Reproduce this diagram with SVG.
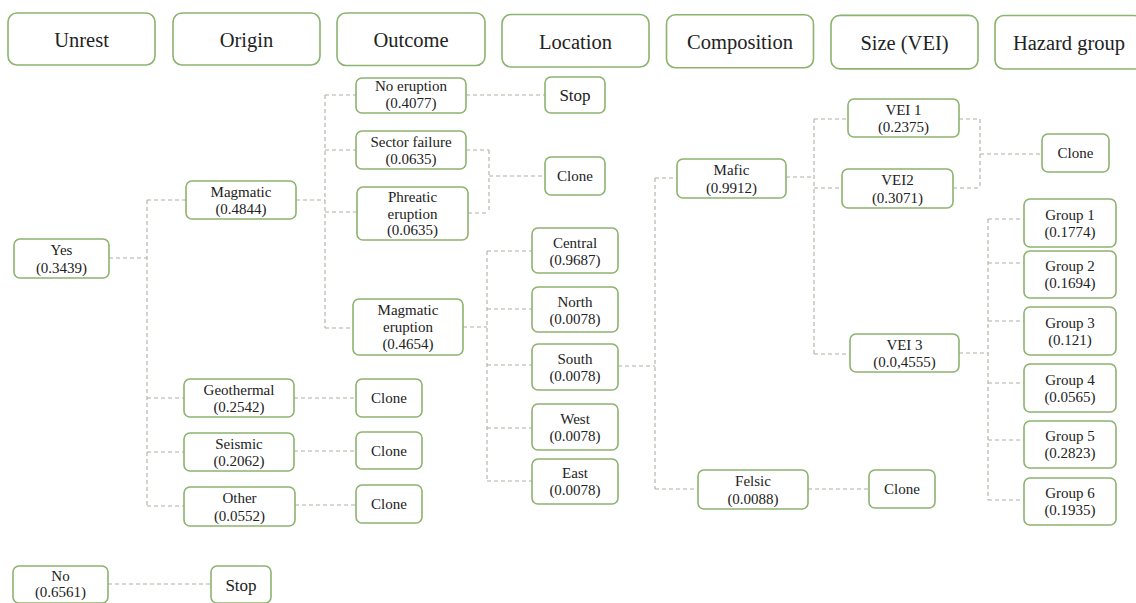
<svg xmlns="http://www.w3.org/2000/svg" width="1136" height="603" viewBox="0 0 1136 603">
<style>
.box{fill:#ffffff;stroke:#8db36f;stroke-width:1.6}
.t{font-family:"Liberation Serif","Times New Roman",serif;font-size:15px;fill:#222;text-anchor:middle}
.h{font-family:"Liberation Serif","Times New Roman",serif;font-size:20.5px;fill:#222;text-anchor:middle}
.s{font-family:"Liberation Serif","Times New Roman",serif;font-size:17px;fill:#222;text-anchor:middle}
.c{fill:none;stroke:#aab2a0;stroke-width:1.1;stroke-dasharray:4 3}
</style>
<rect width="1136" height="603" fill="#ffffff"/>
<g id="headers">
<g id="h-unrest"><rect class="box" x="8" y="13" width="147" height="52" rx="9"/><text class="h" x="81.5" y="46.5">Unrest</text></g>
<g id="h-origin"><rect class="box" x="173" y="13" width="147" height="52" rx="9"/><text class="h" x="246.5" y="46.5">Origin</text></g>
<g id="h-outcome"><rect class="box" x="337" y="13" width="148" height="52.5" rx="9"/><text class="h" x="411" y="47">Outcome</text></g>
<g id="h-location"><rect class="box" x="502" y="14.5" width="147" height="52.5" rx="9"/><text class="h" x="575.5" y="48.5">Location</text></g>
<g id="h-composition"><rect class="box" x="666.5" y="14.7" width="147" height="53" rx="9"/><text class="h" x="740" y="49">Composition</text></g>
<g id="h-size"><rect class="box" x="831" y="15.4" width="147" height="53.5" rx="9"/><text class="h" x="904.5" y="49.5">Size (VEI)</text></g>
<g id="h-hazard"><rect class="box" x="995" y="15.5" width="148" height="53.5" rx="9"/><text class="h" x="1069" y="49.5">Hazard group</text></g>
</g>
<g id="connectors">
<path class="c" d="M109 258H147M147 200V506M147 200H186M147 398H184M147 452H184M147 506H184"/>
<path class="c" d="M108 584H211"/>
<path class="c" d="M296 200H325M325 95V328M325 95H356M325 150H356M325 212H357M325 328H353"/>
<path class="c" d="M466 95H545"/>
<path class="c" d="M466 150H489M468 213H489M489 150V213M489 176H545"/>
<path class="c" d="M294 398H356M294 451H356M295 505H356"/>
<path class="c" d="M463 327H487M487 251V481M487 251H532M487 309H532M487 365H532M487 428H532M487 481H532"/>
<path class="c" d="M618 366H655M655 178V489M655 178H677M655 489H698"/>
<path class="c" d="M786 177H814M814 119V354M814 119H848M814 188H842M814 354H850"/>
<path class="c" d="M959 119H980M953 188H980M980 119V188M980 154H1042"/>
<path class="c" d="M808 489H869"/>
<path class="c" d="M959 353H988M988 219V500M988 219H1024M988 263H1024M988 321H1024M988 383H1024M988 440H1024M988 500H1024"/>
</g>
<g id="n-yes"><rect class="box" x="14" y="239" width="95" height="39" rx="6"/><text class="t" x="61.5" y="255">Yes</text><text class="t" x="61.5" y="273">(0.3439)</text></g>
<g id="n-no"><rect class="box" x="13" y="566" width="95" height="37" rx="6"/><text class="t" x="60.5" y="581">No</text><text class="t" x="60.5" y="597">(0.6561)</text></g>
<g id="n-stop-no"><rect class="box" x="211" y="566" width="60" height="37" rx="6"/><text class="s" x="241" y="591">Stop</text></g>
<g id="n-magmatic"><rect class="box" x="186" y="181" width="110" height="38" rx="6"/><text class="t" x="241" y="197">Magmatic</text><text class="t" x="241" y="214">(0.4844)</text></g>
<g id="n-geothermal"><rect class="box" x="184" y="379" width="110" height="38" rx="6"/><text class="t" x="239" y="395">Geothermal</text><text class="t" x="239" y="412">(0.2542)</text></g>
<g id="n-seismic"><rect class="box" x="184" y="433" width="110" height="38" rx="6"/><text class="t" x="239" y="449">Seismic</text><text class="t" x="239" y="466">(0.2062)</text></g>
<g id="n-other"><rect class="box" x="184" y="487" width="111" height="39" rx="6"/><text class="t" x="239.5" y="503">Other</text><text class="t" x="239.5" y="521">(0.0552)</text></g>
<g id="n-clone-geo"><rect class="box" x="356" y="379" width="66" height="38" rx="6"/><text class="t" x="389" y="403">Clone</text></g>
<g id="n-clone-seis"><rect class="box" x="356" y="432" width="66" height="37" rx="6"/><text class="t" x="389" y="456">Clone</text></g>
<g id="n-clone-other"><rect class="box" x="356" y="485" width="66" height="38" rx="6"/><text class="t" x="389" y="509">Clone</text></g>
<g id="n-no-eruption"><rect class="box" x="356" y="78" width="110" height="35" rx="6"/><text class="t" x="411" y="91">No eruption</text><text class="t" x="411" y="108">(0.4077)</text></g>
<g id="n-sector"><rect class="box" x="356" y="131" width="110" height="38" rx="6"/><text class="t" x="411" y="147">Sector failure</text><text class="t" x="411" y="164">(0.0635)</text></g>
<g id="n-phreatic"><rect class="box" x="357" y="187" width="111" height="53" rx="6"/><text class="t" x="412.5" y="202">Phreatic</text><text class="t" x="412.5" y="219">eruption</text><text class="t" x="412.5" y="235">(0.0635)</text></g>
<g id="n-mag-eruption"><rect class="box" x="353" y="299" width="110" height="56" rx="6"/><text class="t" x="408" y="315">Magmatic</text><text class="t" x="408" y="332">eruption</text><text class="t" x="408" y="349">(0.4654)</text></g>
<g id="n-stop-top"><rect class="box" x="545" y="77" width="60" height="36" rx="6"/><text class="s" x="575" y="101">Stop</text></g>
<g id="n-clone-top"><rect class="box" x="545" y="157" width="60" height="38" rx="6"/><text class="t" x="575" y="181">Clone</text></g>
<g id="n-central"><rect class="box" x="532" y="228" width="86" height="45" rx="6"/><text class="t" x="575" y="248">Central</text><text class="t" x="575" y="265">(0.9687)</text></g>
<g id="n-north"><rect class="box" x="532" y="287" width="86" height="45" rx="6"/><text class="t" x="575" y="307">North</text><text class="t" x="575" y="324">(0.0078)</text></g>
<g id="n-south"><rect class="box" x="532" y="344" width="86" height="46" rx="6"/><text class="t" x="575" y="364">South</text><text class="t" x="575" y="381">(0.0078)</text></g>
<g id="n-west"><rect class="box" x="532" y="404" width="86" height="46" rx="6"/><text class="t" x="575" y="424">West</text><text class="t" x="575" y="441">(0.0078)</text></g>
<g id="n-east"><rect class="box" x="532" y="459" width="86" height="45" rx="6"/><text class="t" x="575" y="478">East</text><text class="t" x="575" y="495">(0.0078)</text></g>
<g id="n-mafic"><rect class="box" x="677" y="159" width="109" height="39" rx="6"/><text class="t" x="731.5" y="175">Mafic</text><text class="t" x="731.5" y="193">(0.9912)</text></g>
<g id="n-felsic"><rect class="box" x="698" y="470" width="110" height="39" rx="6"/><text class="t" x="753" y="486">Felsic</text><text class="t" x="753" y="504">(0.0088)</text></g>
<g id="n-clone-felsic"><rect class="box" x="869" y="470" width="66" height="38" rx="6"/><text class="t" x="902" y="494">Clone</text></g>
<g id="n-vei1"><rect class="box" x="848" y="99" width="111" height="38" rx="6"/><text class="t" x="903.5" y="115">VEI 1</text><text class="t" x="903.5" y="132">(0.2375)</text></g>
<g id="n-vei2"><rect class="box" x="842" y="169" width="111" height="39" rx="6"/><text class="t" x="897.5" y="185">VEI2</text><text class="t" x="897.5" y="203">(0.3071)</text></g>
<g id="n-vei3"><rect class="box" x="850" y="334" width="109" height="38" rx="6"/><text class="t" x="904.5" y="350">VEI 3</text><text class="t" x="904.5" y="367">(0.0,4555)</text></g>
<g id="n-clone-vei"><rect class="box" x="1042" y="134" width="67" height="38" rx="6"/><text class="t" x="1075.5" y="158">Clone</text></g>
<g id="n-group1"><rect class="box" x="1024" y="199" width="92" height="48" rx="6"/><text class="t" x="1070" y="220">Group 1</text><text class="t" x="1070" y="237">(0.1774)</text></g>
<g id="n-group2"><rect class="box" x="1024" y="251" width="92" height="47" rx="6"/><text class="t" x="1070" y="271">Group 2</text><text class="t" x="1070" y="288">(0.1694)</text></g>
<g id="n-group3"><rect class="box" x="1024" y="307" width="92" height="48" rx="6"/><text class="t" x="1070" y="328">Group 3</text><text class="t" x="1070" y="345">(0.121)</text></g>
<g id="n-group4"><rect class="box" x="1024" y="364" width="92" height="48" rx="6"/><text class="t" x="1070" y="385">Group 4</text><text class="t" x="1070" y="402">(0.0565)</text></g>
<g id="n-group5"><rect class="box" x="1024" y="421" width="92" height="47" rx="6"/><text class="t" x="1070" y="441">Group 5</text><text class="t" x="1070" y="458">(0.2823)</text></g>
<g id="n-group6"><rect class="box" x="1024" y="478" width="92" height="47" rx="6"/><text class="t" x="1070" y="498">Group 6</text><text class="t" x="1070" y="515">(0.1935)</text></g>
</svg>
